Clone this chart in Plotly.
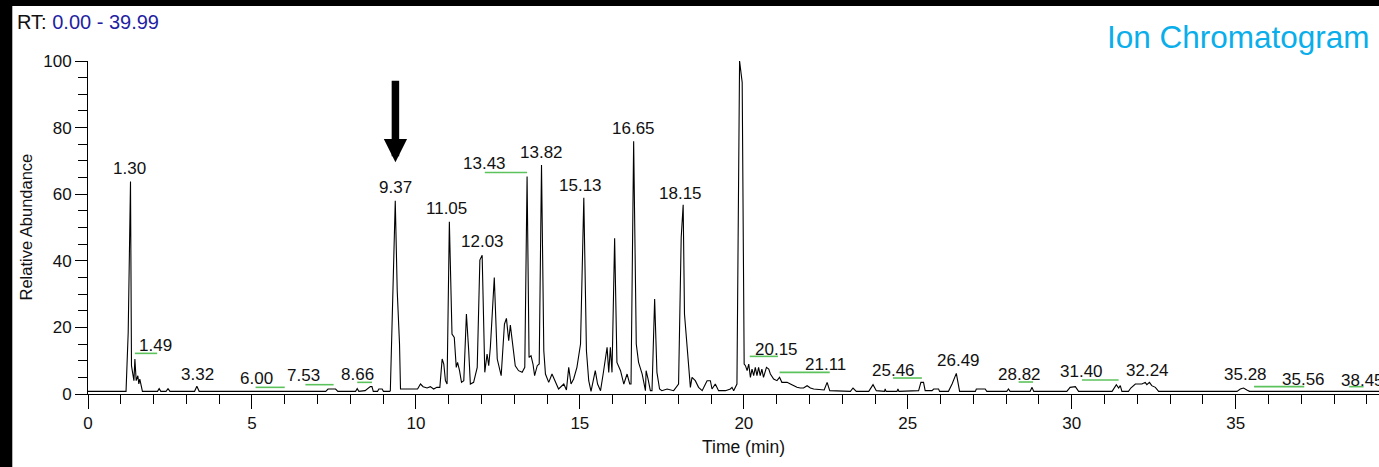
import plotly.graph_objects as go

# ---------------- data ----------------
rt = [0.00, 1.16, 1.226, 1.296, 1.326, 1.40, 1.43, 1.47, 1.52, 1.55, 1.58, 1.63, 1.66,
      2.12, 2.17, 2.22, 2.38, 2.44, 2.50, 3.25, 3.32, 3.39, 7.25, 7.32, 7.55, 7.62,
      8.16, 8.21, 8.26, 8.45, 8.55, 8.61, 8.66, 8.70, 8.83, 8.87, 8.97, 9.01, 9.20,
      9.22, 9.32, 9.37, 9.43, 9.50, 9.53,
      10.05, 10.14, 10.22, 10.34, 10.44, 10.54, 10.64, 10.73, 10.80, 10.85, 10.90, 10.95,
      11.02, 11.10, 11.17, 11.23, 11.27, 11.33, 11.39, 11.46, 11.54, 11.61, 11.66, 11.76,
      11.87, 11.95, 12.02, 12.10, 12.17, 12.22, 12.27, 12.39, 12.48, 12.60, 12.70, 12.76,
      12.83, 12.88, 12.96, 13.03, 13.13, 13.24, 13.32, 13.39, 13.45, 13.51, 13.57, 13.62,
      13.70, 13.76, 13.83, 13.90, 13.95, 14.05, 14.15, 14.25, 14.35, 14.51, 14.59, 14.66,
      14.73, 14.81, 14.91, 15.02, 15.12, 15.20, 15.27, 15.34, 15.47, 15.54, 15.63, 15.71,
      15.78, 15.83, 15.88, 15.93, 15.98, 16.06, 16.13, 16.24, 16.34, 16.44, 16.52, 16.56,
      16.64, 16.72, 16.79, 16.90, 17.00, 17.02, 17.08, 17.15, 17.20, 17.28, 17.35, 17.43,
      17.50, 17.66, 17.86, 17.96, 18.01, 18.09, 18.15, 18.19, 18.25, 18.32, 18.37, 18.42,
      18.52, 18.62, 18.73, 18.83, 18.88, 18.98, 19.03, 19.13, 19.23, 19.44, 19.59, 19.64,
      19.69, 19.79, 19.87, 19.95, 20.01, 20.05, 20.10, 20.15, 20.20, 20.25, 20.30, 20.35,
      20.40, 20.45, 20.50, 20.55, 20.60, 20.69, 20.76, 20.81, 20.91, 21.01, 21.09, 21.16,
      21.32, 21.42, 21.52, 21.62, 21.72, 21.82, 21.93, 22.03, 22.13, 22.33, 22.45, 22.54,
      22.62, 23.25, 23.33, 23.43, 23.81, 23.94, 24.04, 24.29, 24.31, 24.34, 24.67, 24.70,
      24.73, 25.33, 25.40, 25.48, 25.53, 25.74, 25.79, 25.94, 25.97, 26.24, 26.35, 26.48,
      26.55, 26.58, 27.06, 27.09, 27.36, 27.41, 28.02, 28.07, 28.12, 28.73, 28.79, 28.84,
      29.85, 29.95, 30.11, 30.21, 31.23, 31.30, 31.36, 31.43, 31.48, 31.53, 31.73, 31.80,
      31.94, 32.14, 32.24, 32.29, 32.37, 32.44, 32.55, 32.65, 35.04, 35.14, 35.24, 35.34,
      35.42, 39.99]
abundance = [0.8, 0.8, 18.5, 63.8, 8.5, 4.0, 10.5, 4.0, 5.5, 3.0, 4.5, 1.5, 0.8,
             0.8, 1.6, 0.8, 0.8, 1.6, 0.8, 0.8, 2.3, 0.8, 0.8, 1.5, 1.5, 0.8,
             0.8, 1.6, 0.8, 1.0, 1.6, 2.2, 2.2, 0.8, 0.8, 1.5, 1.5, 0.8, 0.8,
             1.0, 39.0, 58.0, 31.0, 15.0, 1.5,
             1.5, 3.0, 2.2, 1.8, 2.2, 1.5, 2.0, 2.0, 10.5, 9.0, 4.0, 3.0,
             51.7, 18.0, 17.0, 8.0, 9.5, 7.0, 3.5, 4.0, 24.0, 13.0, 3.0, 3.5,
             8.0, 40.2, 41.7, 6.5, 12.0, 8.5, 14.0, 35.0, 10.5, 5.5, 21.0, 22.7,
             16.0, 20.7, 15.0, 8.5, 7.0, 6.5, 8.0, 65.3, 11.0, 11.5, 9.0, 5.5,
             8.5, 9.0, 68.8, 13.0, 6.0, 3.5, 6.0, 4.0, 1.5, 3.0, 1.2, 8.0,
             3.0, 4.5, 8.0, 15.0, 58.9, 13.0, 4.0, 0.8, 7.0, 3.0, 1.0, 6.0,
             10.0, 14.0, 6.5, 14.0, 6.5, 46.8, 9.5, 7.0, 3.0, 6.0, 3.0, 3.0,
             75.9, 15.0, 9.5, 6.0, 1.0, 7.0, 4.5, 1.0, 1.0, 28.5, 6.5, 1.5,
             1.0, 1.5, 1.0, 2.5, 3.0, 47.0, 56.8, 24.0, 16.0, 7.5, 2.0, 5.0,
             4.0, 2.0, 1.0, 3.0, 4.0, 4.0, 1.5, 3.0, 1.0, 1.0, 1.5, 2.0,
             1.0, 3.0, 100.0, 93.6, 9.0, 8.5, 7.0, 9.0, 5.0, 7.5, 5.5, 8.0,
             5.5, 8.0, 5.5, 7.5, 5.0, 8.0, 7.5, 6.0, 4.5, 4.0, 5.0, 3.5,
             3.5, 3.0, 2.5, 2.0, 1.8, 1.8, 2.5, 1.8, 1.5, 1.2, 1.2, 3.5,
             1.0, 0.8, 1.8, 0.8, 0.8, 2.8, 1.0, 0.8, 1.5, 0.8, 0.8, 1.5,
             0.8, 1.0, 3.5, 3.5, 1.0, 1.0, 1.5, 1.5, 0.8, 0.8, 3.0, 6.2,
             3.0, 0.8, 0.8, 1.5, 1.5, 0.8, 0.8, 1.5, 0.8, 0.8, 2.0, 0.8,
             0.8, 2.0, 2.2, 0.8, 0.8, 1.8, 2.8, 1.8, 2.5, 0.8, 0.8, 1.8,
             3.0, 3.0, 3.5, 2.8, 3.5, 2.5, 2.0, 0.8, 0.8, 1.5, 1.8, 1.2,
             0.8, 0.8]

peak_labels = ["1.30", "1.49", "3.32", "6.00", "7.53", "8.66", "9.37", "11.05", "12.03",
               "13.43", "13.82", "15.13", "16.65", "18.15", "19.90", "20.15", "21.11",
               "25.46", "26.49", "28.82", "31.40", "32.24", "35.28", "35.56", "38.45"]
# label anchor positions (x in min, y in % abundance)
label_x = [1.265, 2.06, 3.35, 5.14, 6.57, 8.23, 9.375, 10.93, 12.02,
           12.09, 13.83, 15.02, 16.63, 18.06, 19.89, 21.01, 22.50,
           24.56, 26.54, 28.40, 30.29, 32.30, 35.29, 37.06, 38.16]
label_y = [67.7, 14.5, 6.0, 4.7, 5.5, 6.0, 62.0, 55.6, 45.8,
           69.1, 72.6, 62.6, 79.8, 60.2, 104.6, 13.5, 8.8,
           7.2, 10.2, 5.8, 6.7, 7.2, 5.8, 4.5, 4.2]

# green integration bars: start, end, level
bar_start = [1.43, 5.11, 6.63, 8.21, 12.10, 20.18, 21.09, 24.55, 28.38, 30.31, 35.56, 38.46]
bar_end = [2.11, 6.00, 7.49, 8.66, 13.39, 21.04, 22.62, 25.43, 28.82, 31.43, 37.09, 38.90]
bar_level = [12.2, 2.0, 2.8, 3.5, 66.5, 11.3, 6.5, 4.8, 3.6, 4.2, 2.2, 2.2]

x_range = [0, 39.37]
y_range = [0, 100]

# ---------------- figure ----------------
W, H = 1379, 467
ML, MR, MT, MB = 88, 0, 61, 73
PW, PH = W - ML - MR, H - MT - MB
FONT = "Liberation Sans, Arial, sans-serif"


def px_x(p):  # pixel -> paper x
    return (p - ML) / PW


def px_y(p):  # pixel -> paper y
    return (H - MB - p) / PH


fig = go.Figure()
fig.add_trace(go.Scatter(x=rt, y=abundance, mode="lines",
                         line=dict(color="black", width=1.1),
                         hoverinfo="skip", showlegend=False))

annotations = []
for t, lx, ly in zip(peak_labels, label_x, label_y):
    annotations.append(dict(x=lx, y=ly, xref="x", yref="y", text=t, showarrow=False,
                            xanchor="left" if t == "38.45" else "center", yanchor="middle",
                            font=dict(family=FONT, size=17, color="#111111")))

# arrow pointing at 9.37
annotations.append(dict(x=9.375, y=69.6, xref="x", yref="y", ax=0, ay=-83, text="",
                        showarrow=True, arrowhead=2, arrowsize=0.62, arrowwidth=7.5,
                        arrowcolor="black", standoff=0))

annotations.append(dict(x=px_x(15), y=px_y(22), xref="paper", yref="paper",
                        text="RT: <span style='color:#1f1fa3'>0.00 - 39.99</span>",
                        showarrow=False, xanchor="left", yanchor="middle",
                        font=dict(family=FONT, size=20, color="#111111")))
annotations.append(dict(x=px_x(1372), y=px_y(37), xref="paper", yref="paper",
                        text="Ion Chromatogram", showarrow=False,
                        xanchor="right", yanchor="middle",
                        font=dict(family=FONT, size=31.5, color="#0aaeea")))
annotations.append(dict(x=px_x(25), y=0.5, xref="paper", yref="paper",
                        text="Relative Abundance", textangle=-90, showarrow=False,
                        xanchor="center", yanchor="middle",
                        font=dict(family=FONT, size=16.5, color="#111111")))
annotations.append(dict(x=px_x(743), y=px_y(447), xref="paper", yref="paper",
                        text="Time (min)", showarrow=False,
                        xanchor="center", yanchor="middle",
                        font=dict(family=FONT, size=17.5, color="#111111")))

shapes = []
for s, e, lv in zip(bar_start, bar_end, bar_level):
    shapes.append(dict(type="line", xref="x", yref="y", x0=s, x1=e, y0=lv, y1=lv,
                       line=dict(color="#5cc25c", width=1.6)))
# black frame bands (left and top)
shapes.append(dict(type="rect", xref="paper", yref="paper", x0=px_x(-1), x1=px_x(12.3),
                   y0=px_y(H + 1), y1=px_y(-1), fillcolor="black",
                   line=dict(width=0), layer="above"))
shapes.append(dict(type="rect", xref="paper", yref="paper", x0=px_x(-1), x1=px_x(W + 1),
                   y0=px_y(6), y1=px_y(-1), fillcolor="black",
                   line=dict(width=0), layer="above"))

fig.update_layout(
    width=W, height=H,
    margin=dict(l=ML, r=MR, t=MT, b=MB, pad=0),
    paper_bgcolor="white", plot_bgcolor="white",
    font=dict(family=FONT, color="#111111"),
    annotations=annotations, shapes=shapes,
    showlegend=False,
)
fig.update_xaxes(range=x_range, showline=True, linecolor="black", linewidth=1,
                 ticks="outside", ticklen=14, tickwidth=1, tickcolor="black",
                 tick0=0, dtick=5, showgrid=False, zeroline=False,
                 tickfont=dict(family=FONT, size=17, color="#111111"),
                 minor=dict(ticks="outside", ticklen=9, tickwidth=1, tickcolor="black",
                            dtick=1, tick0=0, showgrid=False))
fig.update_yaxes(range=y_range, showline=True, linecolor="black", linewidth=1,
                 ticks="outside", ticklen=12, tickwidth=1, tickcolor="black",
                 tick0=0, dtick=20, showgrid=False, zeroline=False,
                 tickfont=dict(family=FONT, size=17, color="#111111"),
                 minor=dict(ticks="outside", ticklen=9, tickwidth=1, tickcolor="black",
                            dtick=5, tick0=0, showgrid=False))

# remove the browser's default 8px body margin so the figure fills the window
fig.write_html("out.html",
               config={"displayModeBar": False},
               post_script="document.body.style.margin='0px';"
                           "document.body.style.overflow='hidden';"
                           "document.body.style.background='black';")
